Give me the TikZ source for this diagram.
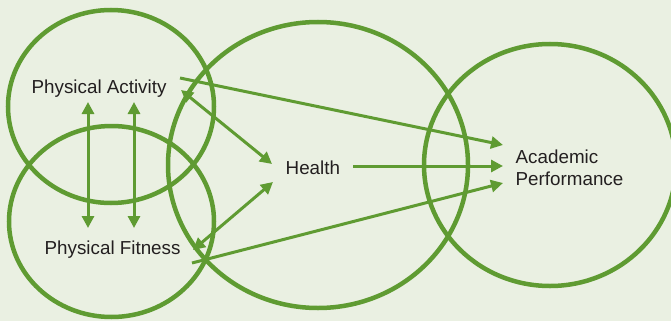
\documentclass[tikz,border=0pt]{standalone}
\usepackage{fontspec}
\setmainfont{Liberation Sans}
\usetikzlibrary{arrows.meta}
\definecolor{grn}{HTML}{5F9B32}
\definecolor{bgc}{HTML}{EAF0E2}
\definecolor{txt}{HTML}{231F20}
\begin{document}
\begin{tikzpicture}[x=1pt,y=-1pt,
  ring/.style={draw=grn,line width=4.5pt},
  lbl/.style={inner sep=0pt,text=txt,font=\fontsize{18.8}{22.5}\selectfont},
  conn/.style={draw=grn,line width=3pt,-{Triangle[length=12pt,width=12pt]}},
  biconn/.style={draw=grn,line width=3pt,{Triangle[length=12pt,width=12pt]}-{Triangle[length=12pt,width=12pt]}}]
\fill[bgc] (0,0) rectangle (671,321);
\useasboundingbox (0,0) rectangle (671,321);
% circles
\draw[ring] (111,106.5) ellipse [x radius=103pt,y radius=96.5pt];
\draw[ring] (111.5,221.5) ellipse [x radius=102.5pt,y radius=95.5pt];
\draw[ring] (318,165) ellipse [x radius=150pt,y radius=143pt];
\draw[ring] (550,165) ellipse [x radius=126pt,y radius=121pt];
% labels
\node[lbl,anchor=base west] (pa) at (31.5,93) {Physical Activity};
\node[lbl,anchor=base west] (pf) at (44.5,254) {Physical Fitness};
\node[lbl,anchor=base west] (he) at (285.5,174) {Health};
\node[lbl,anchor=north west,align=left] (ap) at (515.5,149.3) {Academic\\Performance};
% connector end points
\coordinate (pa1) at (88,102);
\coordinate (pf1) at (88,228);
\coordinate (pa2) at (134,102);
\coordinate (pf2) at (134,228);
\coordinate (paR) at (180,78);
\coordinate (apT) at (503,145);
\coordinate (paH) at (181,90);
\coordinate (heT) at (272,164);
\coordinate (heB) at (273,182);
\coordinate (pfH) at (193,250);
\coordinate (heR) at (353,166);
\coordinate (apM) at (503,166);
\coordinate (pfR) at (192,263);
\coordinate (apB) at (503,183);
% connectors
\draw[biconn] (pa1) -- (pf1);
\draw[biconn] (pa2) -- (pf2);
\draw[conn] (paR) -- (apT);
\draw[biconn] (paH) -- (heT);
\draw[biconn] (heB) -- (pfH);
\draw[conn] (heR) -- (apM);
\draw[conn] (pfR) -- (apB);
\end{tikzpicture}
\end{document}
